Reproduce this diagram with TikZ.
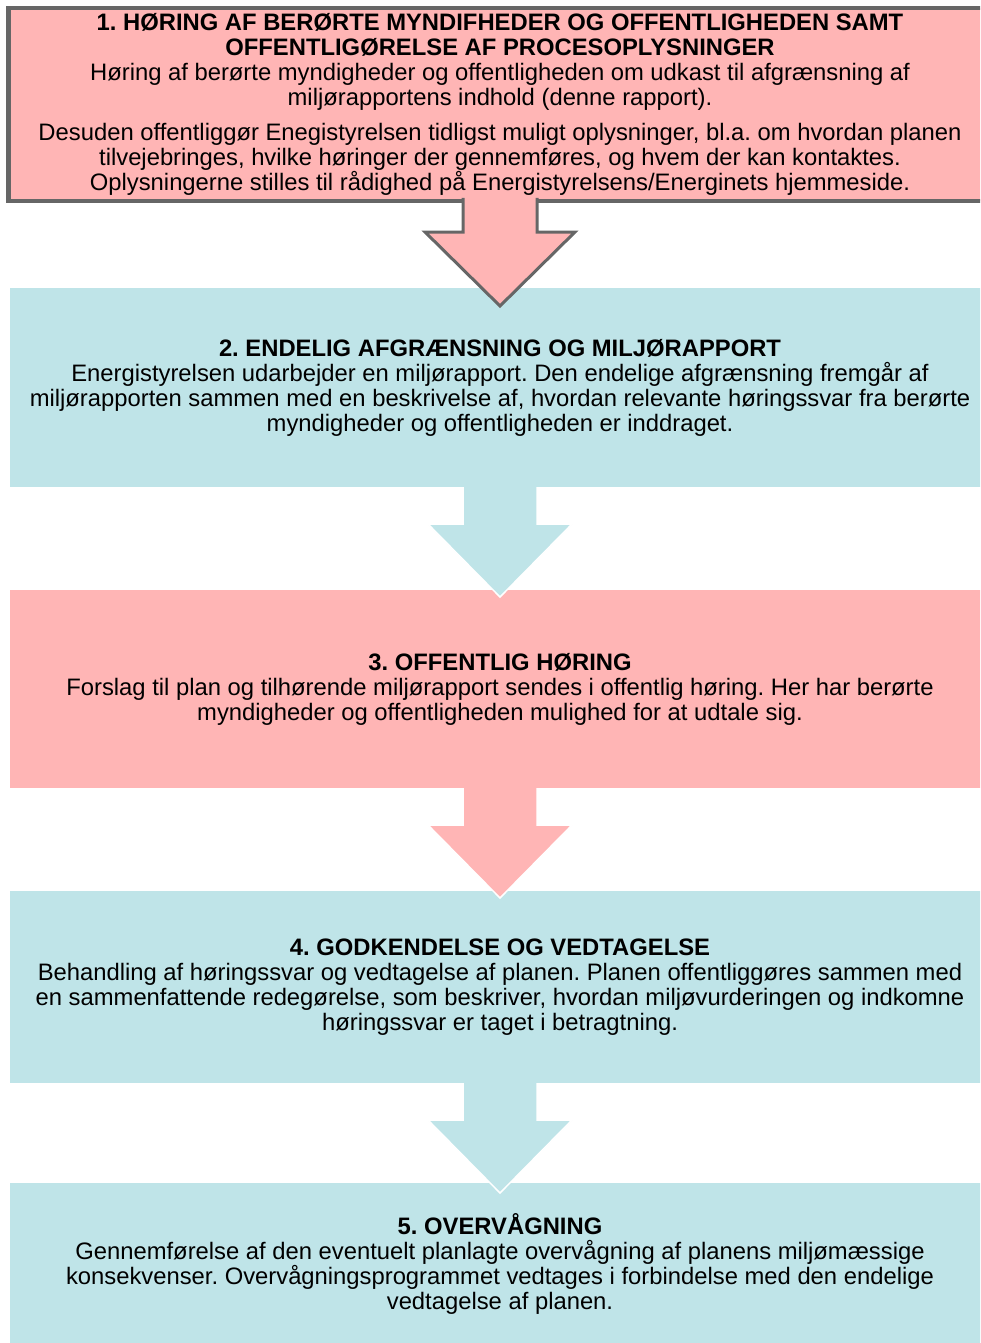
\documentclass[tikz,border=0pt]{standalone}
\usepackage{fontspec}
\setmainfont{Liberation Sans}
\usepackage{tikz}
\usetikzlibrary{calc}
\definecolor{stagepink}{HTML}{FFB5B5}
\definecolor{stagecyan}{HTML}{BFE4E8}
\definecolor{stagegray}{HTML}{666666}
\tikzset{stage box/.style={rectangle, inner sep=0pt, outer sep=0pt, align=center, minimum width=980pt, font=\fontsize{23.8pt}{25pt}\selectfont\frenchspacing}}

\begin{document}
\begin{tikzpicture}[x=1pt, y=-1pt]
\useasboundingbox (0,0) rectangle (980,1343);
\clip (0,0) rectangle (980,1343);

\node[stage box, fill=stagepink, draw=stagegray, line width=4.5pt, minimum width=983pt, minimum height=193pt] (b1) at (500,104.5) {\textbf{1. HØRING AF BERØRTE MYNDIFHEDER OG OFFENTLIGHEDEN SAMT}\\
	\textbf{OFFENTLIGØRELSE AF PROCESOPLYSNINGER}\\
	Høring af berørte myndigheder og offentligheden om udkast til afgrænsning af\\
	miljørapportens indhold (denne rapport).\\[10pt]
	Desuden offentliggør Enegistyrelsen tidligst muligt oplysninger, bl.a. om hvordan planen\\
	tilvejebringes, hvilke høringer der gennemføres, og hvem der kan kontaktes.\\
	Oplysningerne stilles til rådighed på Energistyrelsens/Energinets hjemmeside.};

\node[stage box, fill=stagecyan, minimum height=199pt] (b2) at (500,387.5) {\textbf{2. ENDELIG AFGRÆNSNING OG MILJØRAPPORT}\\
	Energistyrelsen udarbejder en miljørapport. Den endelige afgrænsning fremgår af\\
	miljørapporten sammen med en beskrivelse af, hvordan relevante høringssvar fra berørte\\
	myndigheder og offentligheden er inddraget.};

\node[stage box, fill=stagepink, minimum height=198pt] (b3) at (500,689) {\textbf{3. OFFENTLIG HØRING}\\
	Forslag til plan og tilhørende miljørapport sendes i offentlig høring. Her har berørte\\
	myndigheder og offentligheden mulighed for at udtale sig.};

\node[stage box, fill=stagecyan, minimum height=192pt] (b4) at (500,987) {\textbf{4. GODKENDELSE OG VEDTAGELSE}\\
	Behandling af høringssvar og vedtagelse af planen. Planen offentliggøres sammen med\\
	en sammenfattende redegørelse, som beskriver, hvordan miljøvurderingen og indkomne\\
	høringssvar er taget i betragtning.};

\node[stage box, fill=stagecyan, minimum height=163pt] (b5) at (500,1264) {\textbf{5. OVERVÅGNING}\\
	Gennemførelse af den eventuelt planlagte overvågning af planens miljømæssige\\
	konsekvenser. Overvågningsprogrammet vedtages i forbindelse med den endelige\\
	vedtagelse af planen.};

% Arrows
	\path[draw=stagegray, line width=3pt, fill=stagepink] ($(b1.south)+(-37,-3)$) -- ($(b1.south)+(-37,31)$) -- ($(b1.south)+(-75,31)$) -- ($(b1.south)+(0,105)$) -- ($(b1.south)+(75,31)$) -- ($(b1.south)+(37,31)$) -- ($(b1.south)+(37,-3)$);

	\foreach \a/\c in {b2/stagecyan, b3/stagepink, b4/stagecyan}
		\path[draw=white, line width=1.5pt, fill=\c] ($(\a.south)+(-37,0)$) -- ($(\a.south)+(-37,37)$) -- ($(\a.south)+(-72,37)$) -- ($(\a.south)+(0,110)$) -- ($(\a.south)+(72,37)$) -- ($(\a.south)+(37,37)$) -- ($(\a.south)+(37,0)$);

\end{tikzpicture}
\end{document}
